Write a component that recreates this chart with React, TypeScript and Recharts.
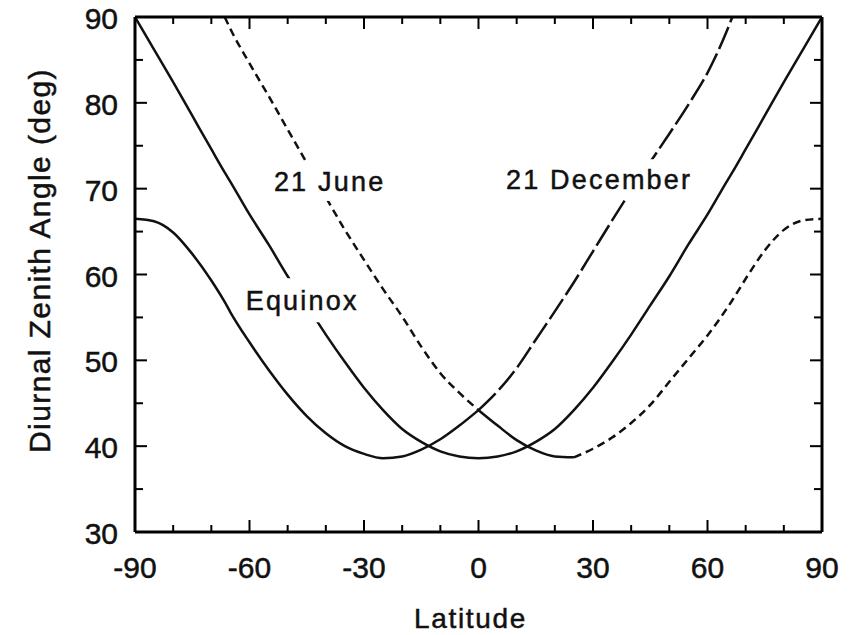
import React from "react";
import { LineChart, Line, XAxis, YAxis, ReferenceDot } from "recharts";

const FONT = '"Liberation Sans", Arial, Helvetica, sans-serif';
const INK = "#111";

// latitude grid (deg) the curves were read on
const LATITUDES = [-90, -85, -80, -75, -70, -66.5, -65, -60, -55, -50, -45, -40, -35, -30, -25, -20, -15, -10, -5, 0, 5, 10, 15, 20, 25, 30, 35, 40, 45, 50, 55, 60, 65, 66.5, 70, 75, 80, 85, 90];

// diurnal zenith angle (deg)
const EQUINOX = [90, 86.2, 82.4, 78.5, 74.6, 71.9, 70.8, 67.0, 63.5, 59.8, 56.4, 53.0, 49.8, 46.8, 44.2, 42.0, 40.5, 39.4, 38.8, 38.6, 38.8, 39.4, 40.5, 42.0, 44.2, 46.8, 49.8, 53.0, 56.4, 59.8, 63.5, 67.0, 70.8, 71.9, 74.6, 78.5, 82.4, 86.2, 90];
const JUNE = [null, null, null, null, null, 90, 88.6, 84.6, 80.8, 76.9, 73.0, 69.0, 65.2, 61.7, 58.3, 55.1, 51.6, 48.5, 46.2, 44.2, 42.4, 40.7, 39.5, 38.8, 38.7, 39.7, 41.0, 42.7, 44.8, 47.5, 50.2, 52.9, 56.0, 57.0, 59.5, 62.8, 65.2, 66.3, 66.5];
const DECEMBER = [66.5, 66.2, 64.9, 62.4, 59.3, 56.8, 55.6, 52.1, 48.9, 46.0, 43.5, 41.5, 40.0, 39.1, 38.6, 38.8, 39.6, 40.8, 42.4, 44.2, 46.4, 49.1, 52.4, 55.7, 59.1, 62.7, 66.3, 69.8, 73.1, 76.4, 79.8, 83.5, 88.3, 90, null, null, null, null, null];

const X_TICKS = [-90, -80, -70, -60, -50, -40, -30, -20, -10, 0, 10, 20, 30, 40, 50, 60, 70, 80, 90];
const Y_TICKS = [30, 35, 40, 45, 50, 55, 60, 65, 70, 75, 80, 85, 90];

// the scan shows the curves with mixed dash styles; split them by latitude
const data = LATITUDES.map((lat, i) => ({
  lat,
  equinox: EQUINOX[i],
  decSolid: lat <= 0 ? DECEMBER[i] : null,
  decDash: lat >= 0 ? DECEMBER[i] : null,
  juneDashL: lat <= 0 ? JUNE[i] : null,
  juneSolid: lat >= 0 && lat <= 25 ? JUNE[i] : null,
  juneDashR: lat >= 25 ? JUNE[i] : null,
}));

const textBase = { fontFamily: FONT, fill: INK, stroke: INK, strokeWidth: 0.5 };

const BottomTick = (props: any) => {
  const { x, y, payload } = props;
  const major = payload.value % 30 === 0;
  return (
    <g>
      <line x1={x} y1={y} x2={x} y2={y - (major ? 12 : 7)} stroke="#000" strokeWidth={2} />
      {major && (
        <text x={x} y={y + 46} textAnchor="middle" fontSize={30} {...textBase}>
          {payload.value}
        </text>
      )}
    </g>
  );
};

const TopTick = (props: any) => {
  const { x, y, payload } = props;
  const major = payload.value % 30 === 0;
  return <line x1={x} y1={y} x2={x} y2={y + (major ? 12 : 7)} stroke="#000" strokeWidth={2} />;
};

const LeftTick = (props: any) => {
  const { x, y, payload } = props;
  const major = payload.value % 10 === 0;
  return (
    <g>
      <line x1={x} y1={y} x2={x + (major ? 12 : 8)} y2={y} stroke="#000" strokeWidth={2} />
      {major && (
        <text x={x - 17} y={y} dy="0.4em" textAnchor="end" fontSize={30} {...textBase}>
          {payload.value}
        </text>
      )}
    </g>
  );
};

const RightTick = (props: any) => {
  const { x, y, payload } = props;
  const major = payload.value % 10 === 0;
  return <line x1={x} y1={y} x2={x - (major ? 12 : 8)} y2={y} stroke="#000" strokeWidth={2} />;
};

const boxLabel = (text: string, w: number, h: number) => (p: any) => {
  const { x, y } = p.viewBox;
  return (
    <g>
      <rect x={x - w / 2} y={y - h / 2} width={w} height={h} fill="#fff" />
      <text x={x} y={y} dy="0.36em" textAnchor="middle" fontSize={27} letterSpacing={2.2} {...textBase}>
        {text}
      </text>
    </g>
  );
};

const lineProps = {
  type: "monotone" as const,
  xAxisId: "b",
  yAxisId: "l",
  stroke: INK,
  strokeWidth: 2.5,
  dot: false,
  activeDot: false,
  isAnimationActive: false,
};

export default function App() {
  return (
    <div style={{ position: "absolute", left: 0, top: 0, width: 849, height: 635, background: "#fff" }}>
      <LineChart width={849} height={635} data={data} margin={{ top: 16, right: 26, bottom: 0, left: 0 }}>
        <XAxis
          xAxisId="b"
          dataKey="lat"
          type="number"
          domain={[-90, 90]}
          allowDataOverflow
          ticks={X_TICKS}
          interval={0}
          height={103}
          tickSize={0}
          tickMargin={0}
          tickLine={false}
          axisLine={{ stroke: "#000", strokeWidth: 3 }}
          tick={<BottomTick />}
          label={{
            content: (p: any) => {
              const vb = p.viewBox;
              return (
                <text x={vb.x + vb.width / 2 - 8} y={vb.y + 96} textAnchor="middle" fontSize={28} letterSpacing={1.7} {...textBase}>
                  Latitude
                </text>
              );
            },
          }}
        />
        <XAxis
          xAxisId="t"
          orientation="top"
          dataKey="lat"
          type="number"
          domain={[-90, 90]}
          allowDataOverflow
          ticks={X_TICKS}
          interval={0}
          height={1}
          tickSize={0}
          tickMargin={0}
          tickLine={false}
          axisLine={{ stroke: "#000", strokeWidth: 3 }}
          tick={<TopTick />}
        />
        <YAxis
          yAxisId="l"
          type="number"
          domain={[30, 90]}
          allowDataOverflow
          ticks={Y_TICKS}
          interval={0}
          width={135}
          tickSize={0}
          tickMargin={0}
          tickLine={false}
          axisLine={{ stroke: "#000", strokeWidth: 3 }}
          tick={<LeftTick />}
          label={{
            content: (p: any) => {
              const vb = p.viewBox;
              const cx = vb.x + 50;
              const cy = vb.y + vb.height / 2 - 14;
              return (
                <text x={cx} y={cy} transform={`rotate(-90, ${cx}, ${cy})`} textAnchor="middle" fontSize={30} letterSpacing={1.4} {...textBase}>
                  Diurnal Zenith Angle (deg)
                </text>
              );
            },
          }}
        />
        <YAxis
          yAxisId="r"
          orientation="right"
          type="number"
          domain={[30, 90]}
          allowDataOverflow
          ticks={Y_TICKS}
          interval={0}
          width={1}
          tickSize={0}
          tickMargin={0}
          tickLine={false}
          axisLine={{ stroke: "#000", strokeWidth: 3 }}
          tick={<RightTick />}
        />

        {/* invisible series so the mirrored top/right axes get drawn */}
        <Line {...lineProps} xAxisId="t" yAxisId="r" dataKey="equinox" stroke="none" />

        <Line {...lineProps} dataKey="equinox" />
        <Line {...lineProps} dataKey="decSolid" />
        <Line {...lineProps} dataKey="decDash" strokeDasharray="24 5" />
        <Line {...lineProps} dataKey="juneDashL" strokeDasharray="8 5" />
        <Line {...lineProps} dataKey="juneSolid" />
        <Line {...lineProps} dataKey="juneDashR" strokeDasharray="8 5" />

        <ReferenceDot xAxisId="b" yAxisId="l" x={-39} y={70.9} r={0} fill="none" stroke="none" label={{ content: boxLabel("21 June", 132, 40) }} />
        <ReferenceDot xAxisId="b" yAxisId="l" x={31.6} y={71.1} r={0} fill="none" stroke="none" label={{ content: boxLabel("21 December", 206, 40) }} />
        <ReferenceDot xAxisId="b" yAxisId="l" x={-46.2} y={57.0} r={0} fill="none" stroke="none" label={{ content: boxLabel("Equinox", 128, 44) }} />
      </LineChart>
    </div>
  );
}
